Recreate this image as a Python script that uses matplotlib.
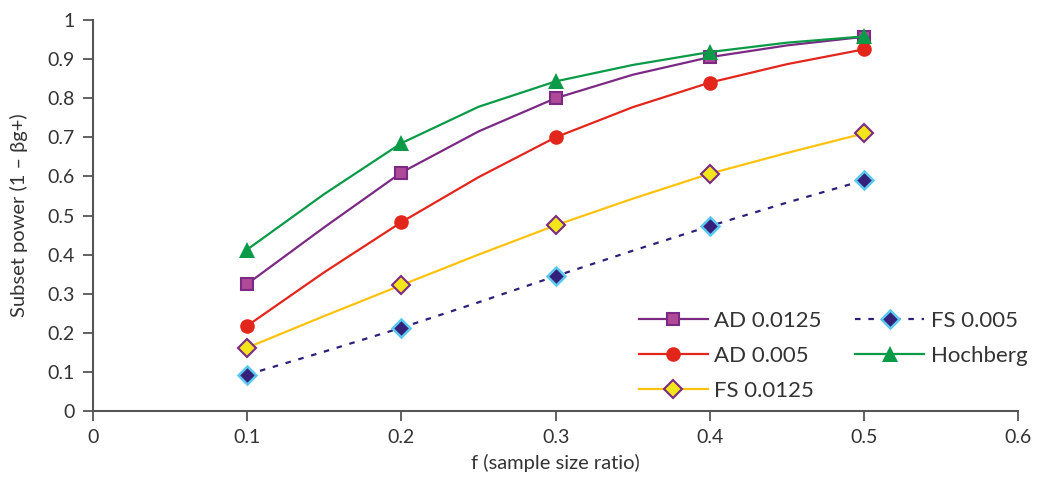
import numpy as np
import matplotlib.pyplot as plt

plt.rcParams['font.family'] = ['Lato', 'DejaVu Sans']

# line points (curves) and marker points
f_line = [0.1, 0.15, 0.2, 0.25, 0.3, 0.35, 0.4, 0.45, 0.5]
f_mark = [0.1, 0.2, 0.3, 0.4, 0.5]

ad_0125 = [0.325, 0.47, 0.61, 0.715, 0.80, 0.86, 0.905, 0.935, 0.957]
ad_005 = [0.218, 0.355, 0.483, 0.598, 0.70, 0.777, 0.84, 0.887, 0.925]
fs_0125 = [0.162, 0.243, 0.322, 0.40, 0.475, 0.543, 0.607, 0.66, 0.71]
fs_005 = [0.093, 0.152, 0.213, 0.278, 0.345, 0.41, 0.473, 0.533, 0.59]
hochberg = [0.413, 0.555, 0.685, 0.778, 0.843, 0.885, 0.918, 0.942, 0.958]

fig = plt.figure(figsize=(10.39, 4.83), dpi=100)
ax = fig.add_axes([0.0895, 0.149, 0.8905, 0.8096])

styles = [
    ('AD 0.0125', ad_0125, dict(color='#7b2a84', ls='-', marker='s', ms=9,
                                mfc='#b04a98', mec='#7b2a84', mew=1.5)),
    ('AD 0.005', ad_005, dict(color='#e3261b', ls='-', marker='o', ms=10.5,
                              mfc='#e3261b', mec='#e3261b', mew=0)),
    ('FS 0.0125', fs_0125, dict(color='#ffc20e', ls='-', marker='D', ms=9.5,
                                mfc='#f2e61a', mec='#7b2a84', mew=1.5)),
    ('FS 0.005', fs_005, dict(color='#2e1f7a', ls=(0, (2.5, 3.5)), marker='D', ms=9.5,
                              mfc='#35207a', mec='#5bc8f0', mew=1.8)),
    ('Hochberg', hochberg, dict(color='#0a9a48', ls='-', marker='^', ms=11,
                                mfc='#0a9a48', mec='#0a9a48', mew=0)),
]

handles = []
for name, vals, st in styles:
    st = dict(st)
    ls = st.pop('ls')
    color = st.pop('color')
    ax.plot(f_line, vals, color=color, ls=ls, lw=1.6)
    mvals = [v for x, v in zip(f_line, vals) if x in f_mark]
    ax.plot(f_mark, mvals, ls='none', **st)
    h, = ax.plot([], [], color=color, ls=ls, lw=1.6, label=name, **st)
    handles.append(h)

ax.set_xlim(0, 0.6)
ax.set_ylim(0, 1)
ax.set_xticks(np.arange(0, 0.61, 0.1))
ax.set_xticklabels(['0', '0.1', '0.2', '0.3', '0.4', '0.5', '0.6'])
ax.set_yticks(np.arange(0, 1.01, 0.1))
ax.set_yticklabels(['0', '0.1', '0.2', '0.3', '0.4', '0.5', '0.6', '0.7', '0.8', '0.9', '1'])

for s in ['top', 'right']:
    ax.spines[s].set_visible(False)
for s in ['left', 'bottom']:
    ax.spines[s].set_color('#555555')
    ax.spines[s].set_linewidth(1.5)
ax.tick_params(direction='out', length=7, width=1.3, color='#555555',
               labelsize=14, labelcolor='#333333', pad=6)

ax.set_xlabel('f (sample size ratio)', fontsize=14.5, color='#333333', labelpad=6)
ax.set_ylabel('Subset power (1 \u2013 \u03b2g+)', fontsize=14.5, color='#333333', labelpad=14)

ax.legend(handles=handles, ncol=2, frameon=False, fontsize=16,
          loc='lower right', bbox_to_anchor=(1.01, 0.025),
          borderpad=0, borderaxespad=0,
          handlelength=3.1, columnspacing=1.5, labelspacing=0.68,
          handletextpad=0.3, labelcolor='#333333')

fig.savefig('out.png', dpi=100)
